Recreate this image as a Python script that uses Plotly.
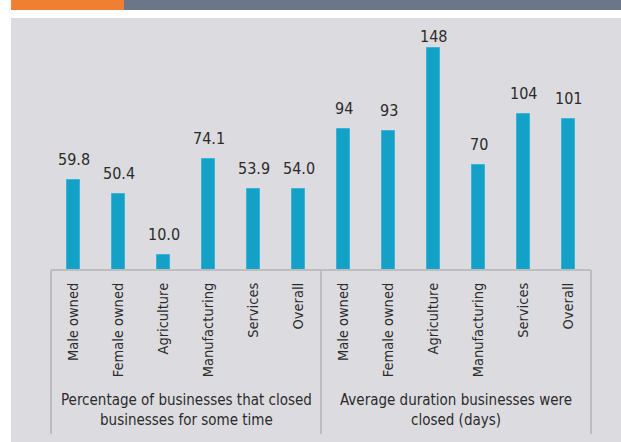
import plotly.graph_objects as go

categories = ["Male owned", "Female owned", "Agriculture", "Manufacturing", "Services", "Overall"]
pct_closed = [59.8, 50.4, 10.0, 74.1, 53.9, 54.0]
avg_days = [94, 93, 148, 70, 104, 101]
group_titles = ["Percentage of businesses that closed<br>businesses for some time",
                "Average duration businesses were<br>closed (days)"]
pct_labels = [f"{v:.1f}" for v in pct_closed]
day_labels = [f"{v:d}" for v in avg_days]

FONT = "DejaVu Sans Condensed, Liberation Sans Narrow, sans-serif"
TXT = "#2b2b2b"
BAR = "#13a1c8"

W, H = 621, 442
L, R, T, B = 51, 30, 30, 172
pw, ph = W - L - R, H - T - B
YMAX = 160

def px(x):
    return (x - L) / pw

def py(y):
    return (H - B - y) / ph

n = len(categories)
x_all = list(range(2 * n))
y_all = pct_closed + avg_days
lab_all = pct_labels + day_labels
tick_all = categories + categories

fig = go.Figure()
fig.add_trace(go.Bar(x=x_all, y=y_all, width=0.31,
                     marker=dict(color=BAR, line=dict(color="#3bb3d6", width=1)),
                     hoverinfo="skip", showlegend=False))

# value labels; keep them inside the panel (labels that would rise too high are pulled down)
for xi, yi, t in zip(x_all, y_all, lab_all):
    bar_top_px = (H - B) - yi / YMAX * ph
    label_top_px = bar_top_px - 9 - 20
    shift = 9 - max(0, 28 - label_top_px)
    fig.add_annotation(x=xi, y=yi, text=t, showarrow=False, yanchor="bottom",
                       yshift=shift, font=dict(family=FONT, size=16, color=TXT))

for i, gt in enumerate(group_titles):
    fig.add_annotation(xref="paper", yref="paper", x=0.25 + 0.5 * i, y=py(410),
                       text=gt, showarrow=False, xanchor="center", yanchor="middle",
                       font=dict(family=FONT, size=15, color=TXT), align="center")

shapes = [
    dict(type="rect", xref="paper", yref="paper", x0=px(11), x1=px(W + 2), y0=py(H + 2), y1=py(18),
         fillcolor="#dcdce0", line=dict(width=0), layer="below"),
    dict(type="rect", xref="paper", yref="paper", x0=px(11), x1=px(124), y0=py(10), y1=py(-1),
         fillcolor="#ee7f33", line=dict(width=0), layer="below"),
    dict(type="rect", xref="paper", yref="paper", x0=px(124), x1=px(W + 2), y0=py(10), y1=py(-1),
         fillcolor="#6b768a", line=dict(width=0), layer="below"),
    dict(type="line", xref="paper", yref="paper", x0=0, x1=1, y0=0, y1=0,
         line=dict(color="#bdbdbd", width=2)),
]
for xv in [0, 0.5, 1]:
    shapes.append(dict(type="line", xref="paper", yref="paper", x0=xv, x1=xv, y0=0, y1=py(434),
                       line=dict(color="#bdbdbd", width=2)))

fig.update_layout(
    width=W, height=H,
    margin=dict(l=L, r=R, t=T, b=B),
    paper_bgcolor="white", plot_bgcolor="rgba(0,0,0,0)",
    shapes=shapes,
    bargap=0,
    xaxis=dict(range=[-0.5, 2 * n - 0.5], tickvals=x_all, ticktext=tick_all, tickangle=-90,
               showgrid=False, zeroline=False, showline=False, ticks="outside",
               ticklen=6, tickcolor="rgba(0,0,0,0)", automargin=False,
               tickfont=dict(family=FONT, size=14.5, color=TXT)),
    yaxis=dict(range=[0, YMAX], visible=False, showgrid=False, zeroline=False, automargin=False),
)

fig.write_html("out.html", config={"displayModeBar": False},
               post_script="document.body.style.margin='0';document.body.style.overflow='hidden';")
